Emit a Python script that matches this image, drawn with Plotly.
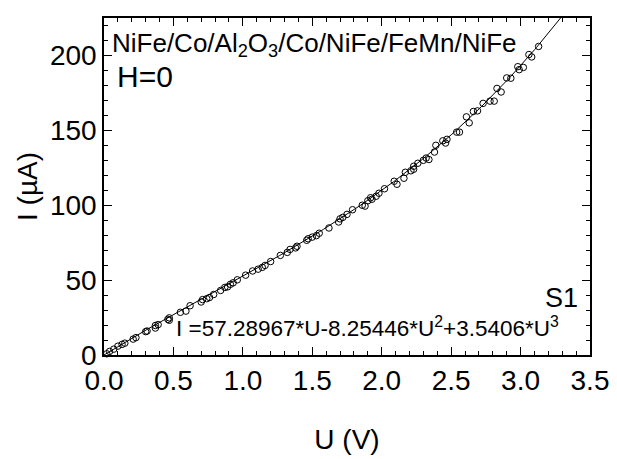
import numpy as np
import plotly.graph_objects as go

U_data = [0.02, 0.04, 0.07, 0.10, 0.13, 0.15, 0.21, 0.23, 0.30, 0.31, 0.37, 0.37, 0.39,
          0.46, 0.47, 0.47, 0.55, 0.59, 0.62, 0.70, 0.71, 0.74, 0.76, 0.79, 0.84, 0.87,
          0.89, 0.91, 0.93, 0.96, 1.02, 1.07, 1.11, 1.14, 1.16, 1.20, 1.27, 1.32, 1.34,
          1.38, 1.39, 1.46, 1.47, 1.50, 1.53, 1.55, 1.62, 1.69, 1.70, 1.72, 1.75, 1.79,
          1.86, 1.88, 1.90, 1.92, 1.93, 1.96, 1.98, 2.02, 2.09, 2.11, 2.16, 2.17, 2.21,
          2.23, 2.23, 2.26, 2.30, 2.32, 2.34, 2.38, 2.39, 2.44, 2.46, 2.47, 2.54, 2.56,
          2.61, 2.63, 2.66, 2.69, 2.73, 2.78, 2.81, 2.83, 2.86, 2.90, 2.93, 2.98, 2.99,
          3.02, 3.06, 3.08, 3.13]
I_data = [0.8, 2.4, 3.9, 5.9, 7.1, 7.9, 10.6, 11.6, 15.6, 16.0, 19.7, 18.0, 20.3,
          23.8, 24.8, 23.2, 28.5, 29.3, 32.9, 35.4, 37.0, 37.6, 38.4, 40.4, 43.1, 45.1,
          45.5, 47.2, 48.2, 50.2, 53.3, 56.1, 57.3, 58.5, 59.8, 62.4, 66.5, 68.5, 70.5,
          71.5, 72.6, 76.6, 77.6, 78.7, 79.7, 81.3, 84.8, 88.8, 90.9, 91.9, 93.9, 97.0,
          100.0, 99.4, 103.0, 105.0, 104.0, 106.0, 108.0, 111.0, 116.0, 114.0, 118.0, 122.0, 123.0,
          126.0, 124.0, 128.0, 130.0, 131.5, 130.5, 135.5, 140.0, 143.0, 141.5, 144.0, 148.8, 148.8,
          159.0, 155.0, 162.6, 163.0, 168.0, 169.5, 169.5, 178.0, 175.6, 185.0, 184.8, 192.5, 190.5,
          192.0, 200.6, 199.0, 206.0]

# Fit coefficients shown on the chart: I = a1*U + a2*U^2 + a3*U^3
fit_coeffs = [57.28967, -8.25446, 3.5406]

x_ticks = [0.0, 0.5, 1.0, 1.5, 2.0, 2.5, 3.0, 3.5]
y_ticks = [0, 50, 100, 150, 200]

U_fit = np.linspace(0, 3.5, 300)
I_fit = fit_coeffs[0] * U_fit + fit_coeffs[1] * U_fit**2 + fit_coeffs[2] * U_fit**3

FONT = "Liberation Sans, Arial, sans-serif"

fig = go.Figure()
fig.add_trace(go.Scatter(x=U_fit, y=I_fit, mode="lines",
                         line=dict(color="black", width=1), hoverinfo="skip",
                         showlegend=False))
fig.add_trace(go.Scatter(x=U_data, y=I_data, mode="markers",
                         marker=dict(symbol="circle-open", size=6.5, color="black",
                                     line=dict(width=1, color="black")),
                         showlegend=False, cliponaxis=False))

axis_common = dict(showline=True, linecolor="black", linewidth=1.5, mirror="ticks",
                   ticks="inside", ticklen=8, tickwidth=1.2, tickcolor="black",
                   showgrid=False, zeroline=False,
                   tickfont=dict(family=FONT, size=28, color="black"))

fig.update_xaxes(range=[0, 3.5], tickvals=x_ticks,
                 ticktext=[f"{v:.1f}" for v in x_ticks],
                 minor=dict(ticks="inside", dtick=0.1, ticklen=4, tickwidth=1, tickcolor="black"),
                 title=dict(text="U (V)", font=dict(family=FONT, size=28, color="black"), standoff=34),
                 **axis_common)
fig.update_yaxes(range=[0, 225], tickvals=y_ticks,
                 minor=dict(ticks="inside", dtick=10, ticklen=4, tickwidth=1, tickcolor="black"),
                 title=dict(text="I (µA)", font=dict(family=FONT, size=28, color="black"), standoff=4),
                 **axis_common)

fig.add_annotation(xref="paper", yref="paper", x=0.012, y=0.975, xanchor="left", yanchor="top",
                   text="NiFe/Co/Al<sub>2</sub>O<sub>3</sub>/Co/NiFe/FeMn/NiFe",
                   showarrow=False, font=dict(family=FONT, size=26, color="black"))
fig.add_annotation(xref="paper", yref="paper", x=0.022, y=0.825, xanchor="left", yanchor="middle",
                   text="H=0", showarrow=False, font=dict(family=FONT, size=30, color="black"))
fig.add_annotation(xref="paper", yref="paper", x=0.98, y=0.17, xanchor="right", yanchor="middle",
                   text="S1", showarrow=False, font=dict(family=FONT, size=27, color="black"))
fig.add_annotation(xref="paper", yref="paper", x=0.94, y=0.082, xanchor="right", yanchor="middle",
                   text="I =57.28967*U-8.25446*U<sup>2</sup>+3.5406*U<sup>3</sup>",
                   showarrow=False, font=dict(family=FONT, size=22.5, color="black"))

# The page body adds an 8px offset, so the figure is 8px smaller on each axis
fig.update_layout(width=609, height=451, margin=dict(l=96, r=22, t=8, b=104),
                  paper_bgcolor="white", plot_bgcolor="white")

fig.write_html("out.html")
